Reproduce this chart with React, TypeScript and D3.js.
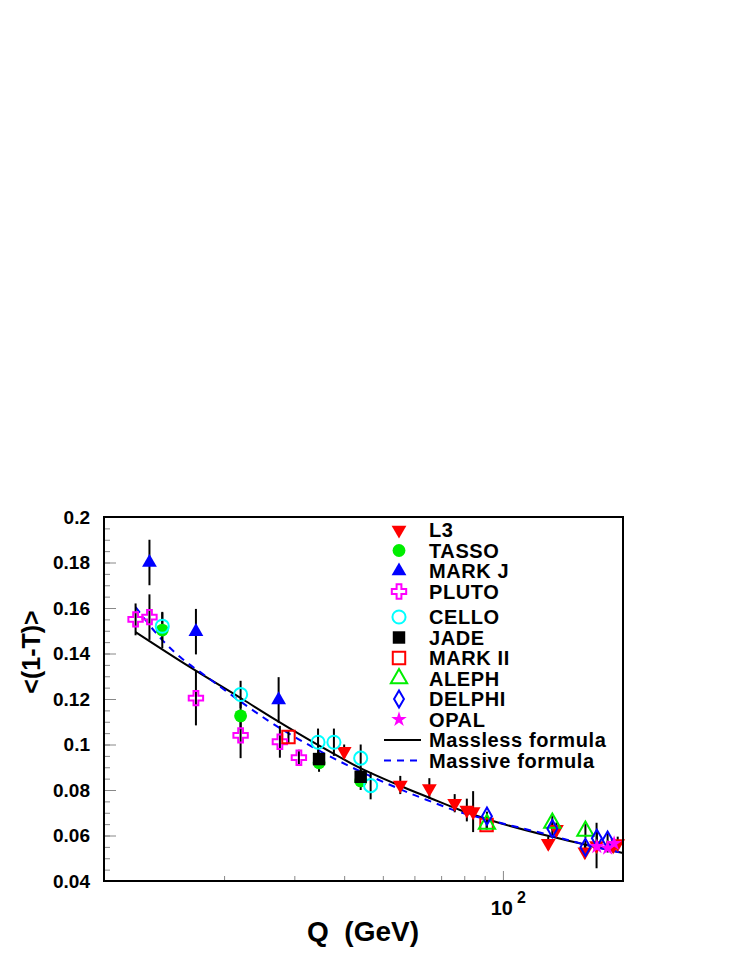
import React, { useEffect, useRef } from "react";
import * as d3 from "d3";

// ---- data ----
const l3Q = [40, 55.3, 65.4, 75.7, 81.2, 84.2, 129.9, 136.2, 160.5, 171.7, 189, 194];
const l3Val = [0.097, 0.0822, 0.0807, 0.0742, 0.0712, 0.0705, 0.0566, 0.0627, 0.0529, 0.0556, 0.0555, 0.0565];
const l3Err = [0.003, 0.004, 0.0045, 0.004, 0.005, 0.009, 0.003, 0.003, 0.003, 0.01, 0.003, 0.003];

const tassoQ = [14, 22, 34.6, 44];
const tassoVal = [0.1503, 0.1126, 0.092, 0.084];
const tassoErr = [0.008, 0.006, 0.004, 0.004];

const markJQ = [13, 17, 27.4];
const markJVal = [0.18, 0.1496, 0.1196];
const markJErr = [0.01, 0.01, 0.01];

const plutoQ = [12, 13, 17, 22, 27.6, 30.8];
const plutoVal = [0.155, 0.156, 0.1204, 0.104, 0.1012, 0.0942];
const plutoErr = [0.007, 0.01, 0.012, 0.01, 0.007, 0.0035];

const celloQ = [14, 22, 34.4, 37.7, 44, 46.6];
const celloVal = [0.152, 0.122, 0.101, 0.101, 0.094, 0.0819];
const celloErr = [0.006, 0.006, 0.006, 0.006, 0.006, 0.006];

const jadeQ = [34.6, 44];
const jadeVal = [0.0936, 0.0858];
const jadeErr = [0.003, 0.003];

const markIIQ = [29, 91];
const markIIVal = [0.1033, 0.0646];
const markIIErr = [0.003, 0.002];

const alephQ = [91.2, 133, 161];
const alephVal = [0.065, 0.0655, 0.062];
const alephErr = [0.002, 0.003, 0.003];

const delphiQ = [91.2, 133, 161, 172, 183];
const delphiVal = [0.0685, 0.063, 0.0548, 0.0588, 0.058];
const delphiErr = [0.002, 0.003, 0.003, 0.003, 0.003];

const opalQ = [172, 183, 190];
const opalVal = [0.0551, 0.0545, 0.0565];
const opalErr = [0.002, 0.002, 0.002];

// curves
const masslessQ = [12, 16.4, 22.2, 26.5, 34.8, 43.8, 54.6, 65.6, 78, 94.4, 133.5, 162.4, 200];
const masslessVal = [0.1494, 0.1341, 0.12, 0.1116, 0.0993, 0.0897, 0.0822, 0.0765, 0.0712, 0.0664, 0.0593, 0.0558, 0.0523];
const massiveQ = [12, 14, 16.2, 17.4, 21.9, 26.1, 34.8, 46.4, 64.5, 78, 94.4, 133.5, 162.4, 200];
const massiveVal = [0.1604, 0.1459, 0.1358, 0.1319, 0.1191, 0.1099, 0.0971, 0.0862, 0.0756, 0.0703, 0.0664, 0.0598, 0.0558, 0.0523];

// axes
const yMajorTicks = [0.04, 0.06, 0.08, 0.1, 0.12, 0.14, 0.16, 0.18, 0.2];
const yTickLabels = ["0.04", "0.06", "0.08", "0.1", "0.12", "0.14", "0.16", "0.18", "0.2"];
const yMinorTicks = d3.range(0.045, 0.2, 0.005);
const xMinorTicks = [20, 30, 40, 50, 60, 70, 80, 90];
const xMajorTicks = [100];

const legendNames = ["L3", "TASSO", "MARK J", "PLUTO", "CELLO", "JADE", "MARK II", "ALEPH", "DELPHI", "OPAL"];

const FONT = "'Liberation Sans', Arial, Helvetica, sans-serif";

export default function App() {
  const ref = useRef<SVGSVGElement>(null);

  useEffect(() => {
    drawChart();
  }, []);

  function drawChart() {
    const svg = d3.select(ref.current);
    svg.selectAll("*").remove();

    const left = 104,
      right = 623,
      top = 517,
      bottom = 881;

    const x = d3.scaleLog().domain([10, 200]).range([left, right]);
    const y = d3.scaleLinear().domain([0.04, 0.2]).range([bottom, top]);

    const g = svg.append("g");

    // ticks
    const yMinor = g
      .append("g")
      .attr("transform", `translate(${left},0)`)
      .call(d3.axisLeft(y).tickValues(yMinorTicks).tickSize(-6).tickFormat(() => ""));
    const yMajor = g
      .append("g")
      .attr("transform", `translate(${left},0)`)
      .call(
        d3
          .axisLeft(y)
          .tickValues(yMajorTicks)
          .tickSize(-12)
          .tickPadding(14)
          .tickFormat((d, i) => yTickLabels[i])
      );
    const xMinor = g
      .append("g")
      .attr("transform", `translate(0,${bottom})`)
      .call(d3.axisBottom(x).tickValues(xMinorTicks).tickSize(-5).tickFormat(() => ""));
    const xMajor = g
      .append("g")
      .attr("transform", `translate(0,${bottom})`)
      .call(d3.axisBottom(x).tickValues(xMajorTicks).tickSize(-10).tickFormat(() => ""));
    [yMinor, yMajor, xMinor, xMajor].forEach((a) => {
      a.select(".domain").remove();
      a.selectAll(".tick line").attr("stroke", "#888").attr("stroke-width", 1);
    });
    yMajor
      .selectAll(".tick text")
      .attr("font-family", FONT)
      .attr("font-weight", "bold")
      .attr("font-size", 19)
      .attr("fill", "#000");

    // 10^2 label
    g.append("text")
      .attr("x", x(100) + 10)
      .attr("y", 915)
      .attr("text-anchor", "end")
      .attr("font-family", FONT)
      .attr("font-weight", "bold")
      .attr("font-size", 20)
      .text("10");
    g.append("text")
      .attr("x", x(100) + 14)
      .attr("y", 903)
      .attr("font-family", FONT)
      .attr("font-weight", "bold")
      .attr("font-size", 16)
      .text("2");

    // axis titles
    g.append("text")
      .attr("x", 363)
      .attr("y", 941)
      .attr("text-anchor", "middle")
      .attr("font-family", FONT)
      .attr("font-weight", "bold")
      .attr("font-size", 28)
      .attr("xml:space", "preserve")
      .style("white-space", "pre")
      .text("Q  (GeV)");
    g.append("text")
      .attr("transform", "translate(40,652) rotate(-90)")
      .attr("text-anchor", "middle")
      .attr("font-family", FONT)
      .attr("font-weight", "bold")
      .attr("font-size", 25)
      .text("<(1-T)>");

    // curves
    const line = d3
      .line<[number, number]>()
      .x((d) => x(d[0]))
      .y((d) => y(d[1]))
      .curve(d3.curveMonotoneX);
    g.append("path")
      .datum(masslessQ.map((q, i) => [q, masslessVal[i]] as [number, number]))
      .attr("fill", "none")
      .attr("stroke", "#000")
      .attr("stroke-width", 2)
      .attr("d", line);
    g.append("path")
      .datum(massiveQ.map((q, i) => [q, massiveVal[i]] as [number, number]))
      .attr("fill", "none")
      .attr("stroke", "#0000ff")
      .attr("stroke-width", 2)
      .attr("stroke-dasharray", "7,6")
      .attr("d", line);

    // marker styles
    const styles = [
      { type: d3.symbolTriangle, size: 95, rot: 180, fill: "#ff0000", stroke: "none" },
      { type: d3.symbolCircle, size: 130, rot: 0, fill: "#00ee00", stroke: "none" },
      { type: d3.symbolTriangle, size: 95, rot: 0, fill: "#0000ff", stroke: "none" },
      { type: d3.symbolCross, size: 115, rot: 0, fill: "none", stroke: "#ff00ff" },
      { type: d3.symbolCircle, size: 135, rot: 0, fill: "none", stroke: "#00ffff" },
      { type: d3.symbolSquare, size: 155, rot: 0, fill: "#000", stroke: "none" },
      { type: d3.symbolSquare, size: 155, rot: 0, fill: "none", stroke: "#ff0000" },
      { type: d3.symbolTriangle, size: 115, rot: 0, fill: "none", stroke: "#00ee00" },
      { type: d3.symbolDiamond, size: 85, rot: 0, fill: "none", stroke: "#0000ff" },
      { type: d3.symbolStar, size: 75, rot: 0, fill: "#ff00ff", stroke: "none" },
    ];

    const sets = [
      [l3Q, l3Val, l3Err],
      [tassoQ, tassoVal, tassoErr],
      [markJQ, markJVal, markJErr],
      [plutoQ, plutoVal, plutoErr],
      [celloQ, celloVal, celloErr],
      [jadeQ, jadeVal, jadeErr],
      [markIIQ, markIIVal, markIIErr],
      [alephQ, alephVal, alephErr],
      [delphiQ, delphiVal, delphiErr],
      [opalQ, opalVal, opalErr],
    ];

    // error bars
    const bars = g.append("g");
    sets.forEach(([qs, vs, es]) => {
      qs.forEach((q, i) => {
        bars
          .append("line")
          .attr("x1", x(q))
          .attr("x2", x(q))
          .attr("y1", y(vs[i] - es[i]))
          .attr("y2", y(vs[i] + es[i]))
          .attr("stroke", "#000")
          .attr("stroke-width", 2);
      });
    });

    // markers
    sets.forEach(([qs, vs], k) => {
      const st = styles[k];
      const path = d3.symbol().type(st.type).size(st.size)();
      g.append("g")
        .selectAll("path")
        .data(qs.map((q, i) => [q, vs[i]]))
        .join("path")
        .attr("d", path)
        .attr("transform", (d) => `translate(${x(d[0])},${y(d[1])}) rotate(${st.rot})`)
        .attr("fill", st.fill)
        .attr("stroke", st.stroke)
        .attr("stroke-width", 2);
    });

    // frame
    g.append("rect")
      .attr("x", left)
      .attr("y", top)
      .attr("width", right - left)
      .attr("height", bottom - top)
      .attr("fill", "none")
      .attr("stroke", "#000")
      .attr("stroke-width", 2);

    // legend
    const leg = g.append("g");
    const legY = (i: number) => 530 + i * 20.5 + (i >= 4 ? 5 : 0);
    const legText = (sel: any) =>
      sel
        .attr("font-family", FONT)
        .attr("font-weight", "bold")
        .attr("font-size", 20)
        .attr("letter-spacing", 0.6);
    legendNames.forEach((name, i) => {
      const st = styles[i];
      leg
        .append("path")
        .attr("d", d3.symbol().type(st.type).size(st.size)())
        .attr("transform", `translate(399,${legY(i)}) rotate(${st.rot})`)
        .attr("fill", st.fill)
        .attr("stroke", st.stroke)
        .attr("stroke-width", 2);
      leg
        .append("text")
        .attr("x", 429)
        .attr("y", legY(i) + 7)
        .call(legText)
        .text(name);
    });
    const lineRows = [
      { name: "Massless formula", color: "#000", dash: "none" },
      { name: "Massive formula", color: "#0000ff", dash: "7,6" },
    ];
    lineRows.forEach((r, j) => {
      const yy = legY(10 + j);
      leg
        .append("line")
        .attr("x1", 384)
        .attr("x2", 421)
        .attr("y1", yy)
        .attr("y2", yy)
        .attr("stroke", r.color)
        .attr("stroke-width", 2)
        .attr("stroke-dasharray", r.dash);
      leg
        .append("text")
        .attr("x", 429)
        .attr("y", yy + 7)
        .call(legText)
        .text(r.name);
    });
  }

  return (
    <svg
      ref={ref}
      width={747}
      height={967}
      style={{ position: "absolute", left: 0, top: 0, background: "#fff" }}
    />
  );
}
